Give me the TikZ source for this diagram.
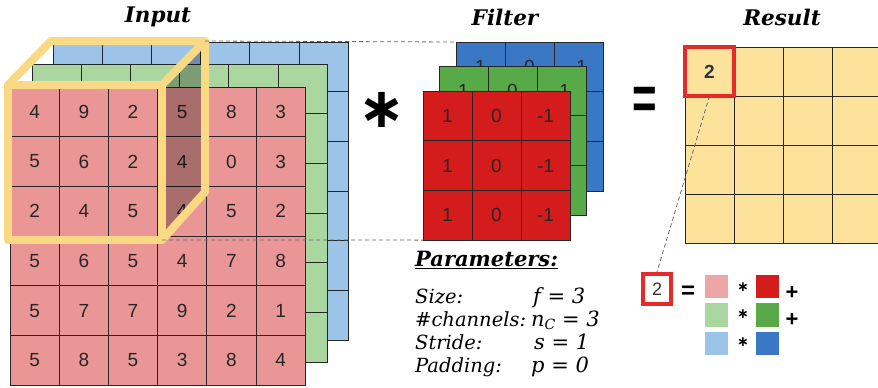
\documentclass[tikz,border=0pt]{standalone}
\usepackage{fontspec}
\setmainfont{DejaVu Serif}
\newfontfamily\cellfont{Liberation Sans}
\newfontfamily\symfont{DejaVu Sans}
\usetikzlibrary{calc}
\definecolor{inred}{HTML}{EA9696}
\definecolor{ingreen}{HTML}{AAD6A0}
\definecolor{inblue}{HTML}{9CC4E8}
\definecolor{fred}{HTML}{D41C1C}
\definecolor{fgreen}{HTML}{58AA48}
\definecolor{fblue}{HTML}{3A78C6}
\definecolor{resyel}{HTML}{FDE29C}
\definecolor{cubeyel}{HTML}{F9D984}
\definecolor{hired}{HTML}{E52A2A}
\tikzset{
 cell/.style={draw=black!85, line width=0.7pt, inner sep=0pt, outer sep=0pt,
   minimum width=49.2pt, minimum height=49.7pt,
   font=\cellfont\fontsize{19}{19}\selectfont, text=black!85},
 fcell/.style={cell, minimum width=49pt, minimum height=49.7pt},
 rcell/.style={cell, fill=resyel, minimum width=49pt, minimum height=49pt},
 title/.style={font=\bfseries\itshape\fontsize{21.5}{21.5}\selectfont},
 param/.style={anchor=base west, inner sep=0pt, font=\itshape\fontsize{19.5}{19.5}\selectfont},
 pval/.style={anchor=base west, inner sep=0pt, font=\itshape\fontsize{21}{21}\selectfont},
 cubeline/.style={cubeyel, line width=8pt, line join=round, line cap=round},
 guide/.style={black!60, line width=0.8pt, dash pattern=on 4pt off 3pt},
 swatch/.style={minimum width=23pt, minimum height=23.5pt, inner sep=0pt},
 opsign/.style={font=\cellfont\bfseries\fontsize{22}{22}\selectfont, inner sep=0pt},
 bigast/.style={font={\symfont\bfseries\fontsize{56}{56}\selectfont}, inner sep=0pt},
 smallast/.style={font={\symfont\bfseries\fontsize{14}{14}\selectfont}, inner sep=0pt},
}
\begin{document}
\begin{tikzpicture}[x=1pt,y=-1pt]
\useasboundingbox (0,0) rectangle (878,388);
\clip (0,0) rectangle (878,388);
\fill[white] (0,0) rectangle (878,388);

% titles
\node[title] (tin) at (158,17) {Input};
\node[title] (tfi) at (505,17) {Filter};
\node[title] (tre) at (782,17) {Result};

% input layers
\foreach \i in {0,...,5}{\foreach \j in {0,...,5}{
 \node[cell, fill=inblue] (ib-\i-\j) at ({53+(\j+0.5)*49.2},{42+(\i+0.5)*49.7}) {};
}}
\foreach \i in {0,...,5}{\foreach \j in {0,...,5}{
 \node[cell, fill=ingreen] (ig-\i-\j) at ({32+(\j+0.5)*49.2},{64+(\i+0.5)*49.7}) {};
}}
\foreach \row [count=\i from 0] in {{4,9,2,5,8,3},{5,6,2,4,0,3},{2,4,5,4,5,2},{5,6,5,4,7,8},{5,7,7,9,2,1},{5,8,5,3,8,4}}{
 \foreach \v [count=\j from 0] in \row {
  \node[cell, fill=inred] (ir-\i-\j) at ({10+(\j+0.5)*49.2},{87+(\i+0.5)*49.7}) {\v};
 }}

% cube
\coordinate (FTL) at (8,85);
\coordinate (FTR) at (162,85);
\coordinate (FBR) at (162,240);
\coordinate (FBL) at (8,240);
\coordinate (BTL) at (51,41);
\coordinate (BTR) at (205,41);
\coordinate (BBR) at (205,192);
\fill[black, opacity=0.27] (FTR) -- (BTR) -- (BBR) -- (FBR) -- cycle;
\draw[cubeline] (FTL) -- (FTR) -- (FBR) -- (FBL) -- cycle;
\draw[cubeline] (FTL) -- (BTL) -- (BTR) -- (BBR) -- (FBR);
\draw[cubeline] (FTR) -- (BTR);

% asterisk
\node[bigast] (ast) at (382,110) {∗};

% filter layers
\foreach \i in {0,...,2}{\foreach \j in {0,...,2}{
 \node[fcell, fill=fblue] (fb-\i-\j) at ({456+(\j+0.5)*49},{42+(\i+0.5)*49.7}) {};
}}
\foreach \v [count=\j from 0] in {1,0,-1}{\node[inner sep=0pt, font=\cellfont\fontsize{19}{19}\selectfont, text=black!85] (fbt-\j) at (fb-0-\j) {\v};}
\foreach \i in {0,...,2}{\foreach \j in {0,...,2}{
 \node[fcell, fill=fgreen] (fg-\i-\j) at ({439+(\j+0.5)*49},{66+(\i+0.5)*49.7}) {};
}}
\foreach \v [count=\j from 0] in {1,0,-1}{\node[inner sep=0pt, font=\cellfont\fontsize{19}{19}\selectfont, text=black!85] (fgt-\j) at (fg-0-\j) {\v};}
\foreach \i in {0,...,2}{
 \foreach \v [count=\j from 0] in {1,0,-1}{
  \node[fcell, fill=fred] (fr-\i-\j) at ({423+(\j+0.5)*49},{91+(\i+0.5)*49.7}) {\v};
 }}

% dashed guides
\draw[guide] (BTR) -- (fb-0-0.north west);
\draw[guide] (FBR) -- (fr-2-0.south west);

% equals
\node[font=\cellfont\bfseries\fontsize{40}{40}\selectfont, inner sep=0pt] (eq) at (645,103) {\scalebox{1.05}[1.55]{=}};

% result grid
\foreach \i in {0,...,3}{\foreach \j in {0,...,3}{
 \node[rcell] (rr-\i-\j) at ({685+(\j+0.5)*49},{47+(\i+0.5)*49}) {};
}}
\node[font=\cellfont\bfseries\fontsize{19}{19}\selectfont, text=black!80, inner sep=0pt] (rtwo) at (rr-0-0) {2};
\draw[hired, line width=4.5pt] (rr-0-0.north west) rectangle (rr-0-0.south east);

% small expansion
\node[draw=hired, line width=4pt, minimum width=28pt, minimum height=30pt, inner sep=0pt,
  font=\cellfont\fontsize{18}{18}\selectfont, text=black!80] (small) at (657,289) {2};
\draw[guide] (rr-0-0.south) -- (small.north);
\node[font=\cellfont\bfseries\fontsize{24}{24}\selectfont, inner sep=0pt] (eq2) at (688,292) {=};
\node[swatch, fill=inred!85] (s1a) at (716.5,286.5) {};
\node[swatch, fill=ingreen] (s2a) at (716.5,315) {};
\node[swatch, fill=inblue] (s3a) at (716.5,343.5) {};
\node[swatch, fill=fred] (s1b) at (767.5,286.5) {};
\node[swatch, fill=fgreen] (s2b) at (767.5,315) {};
\node[swatch, fill=fblue] (s3b) at (767.5,343.5) {};
\node[smallast] (m1) at (743,287) {∗};
\node[smallast] (m2) at (743,314) {∗};
\node[smallast] (m3) at (743,342) {∗};
\node[opsign] (p1) at (792,293) {+};
\node[opsign] (p2) at (792,320) {+};

% parameters
\node[anchor=base west, inner sep=0pt, font=\bfseries\itshape\fontsize{21}{21}\selectfont] (ptitle) at (415,266) {\underline{Parameters:}};
\node[param] (l1) at (415,303) {Size:};
\node[param] (l2) at (415,326) {\#channels:};
\node[param] (l3) at (415,349) {Stride:};
\node[param] (l4) at (415,372) {Padding:};
\node[pval] (v1) at (533,303) {f = 3};
\node[pval] (v2) at (531,326) {n\raisebox{-0.3ex}{\fontsize{14}{14}\selectfont C} = 3};
\node[pval] (v3) at (534,349) {s = 1};
\node[pval] (v4) at (531,372) {p = 0};
\end{tikzpicture}
\end{document}
